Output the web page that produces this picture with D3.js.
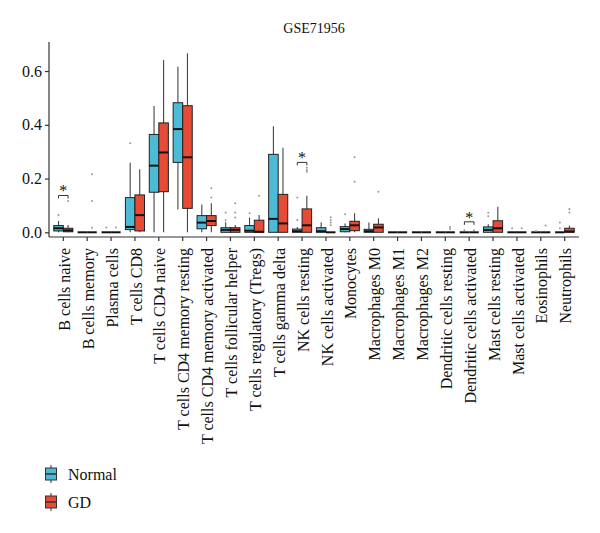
<!DOCTYPE html>
<html>
<head>
<meta charset="utf-8">
<script src="https://cdn.jsdelivr.net/npm/d3@7"></script>
<style>
  body { margin: 0; background: #fff; }
  text { font-family: "Liberation Serif", "DejaVu Serif", serif; fill: #111; }
</style>
</head>
<body>
<svg id="chart" width="600" height="533"></svg>
<script>
// immune cell fractions (CIBERSORT)
const categories = [
  'B cells naive', 'B cells memory', 'Plasma cells', 'T cells CD8', 'T cells CD4 naive',
  'T cells CD4 memory resting', 'T cells CD4 memory activated', 'T cells follicular helper',
  'T cells regulatory (Tregs)', 'T cells gamma delta', 'NK cells resting', 'NK cells activated',
  'Monocytes', 'Macrophages M0', 'Macrophages M1', 'Macrophages M2', 'Dendritic cells resting',
  'Dendritic cells activated', 'Mast cells resting', 'Mast cells activated', 'Eosinophils', 'Neutrophils'
];
const groups = ['Normal', 'GD'];

// [lower whisker, q1, median, q3, upper whisker]
const normalStats = [
  [0, 0.005, 0.015, 0.025, 0.042], [0, 0, 0, 0, 0], [0, 0, 0, 0, 0],
  [0, 0.010, 0.020, 0.129, 0.259], [0, 0.149, 0.248, 0.364, 0.470],
  [0.085, 0.260, 0.384, 0.482, 0.616], [0, 0.013, 0.036, 0.062, 0.103],
  [0, 0, 0.009, 0.017, 0.037], [0, 0, 0.006, 0.025, 0.055], [0, 0, 0.050, 0.290, 0.395],
  [0, 0, 0.004, 0.012, 0.020], [0, 0, 0.004, 0.017, 0.037], [0, 0.002, 0.012, 0.021, 0.033],
  [0, 0, 0.004, 0.011, 0.036], [0, 0, 0, 0, 0], [0, 0, 0, 0, 0], [0, 0, 0, 0, 0],
  [0, 0, 0, 0, 0], [0, 0, 0.009, 0.020, 0.030], [0, 0, 0, 0, 0], [0, 0, 0, 0, 0],
  [0, 0, 0, 0, 0]
];
const gdStats = [
  [0, 0.002, 0.007, 0.015, 0.027], [0, 0, 0, 0, 0], [0, 0, 0, 0, 0],
  [0, 0.005, 0.064, 0.139, 0.235], [0, 0.151, 0.297, 0.407, 0.641],
  [0, 0.089, 0.279, 0.471, 0.666], [0, 0.025, 0.042, 0.062, 0.108],
  [0, 0, 0.009, 0.017, 0.027], [0, 0, 0.002, 0.045, 0.064], [0, 0, 0.033, 0.141, 0.315],
  [0, 0, 0.026, 0.087, 0.136], [0, 0, 0, 0, 0], [0, 0.006, 0.026, 0.041, 0.071],
  [0, 0, 0.018, 0.030, 0.052], [0, 0, 0, 0, 0], [0, 0, 0, 0, 0], [0, 0, 0, 0, 0],
  [0, 0, 0, 0, 0], [0, 0, 0.015, 0.043, 0.095], [0, 0, 0, 0, 0], [0, 0, 0, 0, 0],
  [0, 0, 0.003, 0.015, 0.025]
];
const normalOutliers = [
  [0.064], [], [0.018], [0.331], [], [], [], [0.045, 0.074], [0.071], [],
  [0.046, 0.129], [], [0.067], [], [], [], [], [0.008], [0.060, 0.073], [0.015], [0.005],
  [0.015, 0.036]
];
const gdOutliers = [
  [0.116], [0.017, 0.116, 0.216], [0.018], [], [], [], [0.129, 0.164], [0.055, 0.074, 0.108],
  [0.136], [], [0.225, 0.232, 0.240], [0.026, 0.036, 0.046, 0.056], [0.188, 0.279], [0.151],
  [], [], [0.012, 0.020], [0.008], [], [0.015], [0.025], [0.074, 0.087]
];
// significance brackets: category and height
const sigCategories = ['B cells naive', 'NK cells resting', 'Dendritic cells activated'];
const sigHeights = [0.137, 0.260, 0.039];
const yTicks = [0, 0.2, 0.4, 0.6];

const colors = { Normal: '#4DBBD5', GD: '#E64B35' };
const panel = { left: 49, right: 579, top: 42, bottom: 237 };
const serif = '"Liberation Serif", "DejaVu Serif", serif';

const svg = d3.select('#chart');

const x = d3.scaleBand()
  .domain(categories)
  .range([panel.left, panel.right])
  .paddingInner(0)
  .paddingOuter(0.1);

const xg = d3.scaleBand()
  .domain(groups)
  .range([0, x.bandwidth()])
  .paddingInner(0)
  .paddingOuter(0.25);

const y = d3.scaleLinear()
  .domain([-0.0175, 0.708])
  .range([panel.bottom, panel.top]);

// title
svg.append('text')
  .attr('x', (panel.left + panel.right) / 2)
  .attr('y', 33)
  .attr('text-anchor', 'middle')
  .style('font-family', serif)
  .style('font-size', '14px')
  .attr('fill', '#111')
  .text('GSE71956');

// boxes
const boxes = [];
categories.forEach((c, i) => {
  boxes.push({ cat: c, group: 'Normal', s: normalStats[i], out: normalOutliers[i] });
  boxes.push({ cat: c, group: 'GD', s: gdStats[i], out: gdOutliers[i] });
});

const bw = xg.bandwidth();
const g = svg.append('g');

boxes.forEach(d => {
  const x0 = x(d.cat) + xg(d.group);
  const cx = x0 + bw / 2;
  const [lo, q1, med, q3, hi] = d.s;
  const bg = g.append('g');

  bg.append('line')
    .attr('x1', cx).attr('x2', cx)
    .attr('y1', y(hi)).attr('y2', y(q3))
    .attr('stroke', '#444').attr('stroke-width', 1.1);
  bg.append('line')
    .attr('x1', cx).attr('x2', cx)
    .attr('y1', y(q1)).attr('y2', y(lo))
    .attr('stroke', '#444').attr('stroke-width', 1.1);

  bg.append('rect')
    .attr('x', x0)
    .attr('y', y(q3))
    .attr('width', bw)
    .attr('height', Math.max(0, y(q1) - y(q3)))
    .attr('fill', colors[d.group])
    .attr('stroke', '#222')
    .attr('stroke-width', 1);

  bg.append('line')
    .attr('x1', x0).attr('x2', x0 + bw)
    .attr('y1', y(med)).attr('y2', y(med))
    .attr('stroke', '#111').attr('stroke-width', 2);

  bg.selectAll('circle')
    .data(d.out)
    .join('circle')
    .attr('cx', cx)
    .attr('cy', v => y(v))
    .attr('r', 1)
    .attr('fill', '#999');
});

// significance brackets
sigCategories.forEach((c, i) => {
  const xa = x(c) + xg('Normal') + bw / 2;
  const xb = x(c) + xg('GD') + bw / 2;
  const yb = y(sigHeights[i]);
  svg.append('path')
    .attr('d', `M${xa},${yb + 3}V${yb}H${xb}V${yb + 3}`)
    .attr('fill', 'none')
    .attr('stroke', '#333')
    .attr('stroke-width', 1);
  svg.append('text')
    .attr('x', (xa + xb) / 2)
    .attr('y', yb + 1)
    .attr('text-anchor', 'middle')
    .style('font-family', serif)
    .style('font-size', '16px')
    .attr('fill', '#222')
    .text('*');
});

// axes
const yAxis = svg.append('g')
  .attr('transform', `translate(${panel.left},0)`)
  .call(d3.axisLeft(y).tickValues(yTicks).tickFormat(d3.format('.1f')).tickSize(4).tickPadding(3));
yAxis.select('.domain').attr('d', `M0,${panel.top}V${panel.bottom}`);

const xAxis = svg.append('g')
  .attr('transform', `translate(0,${panel.bottom})`)
  .call(d3.axisBottom(x).tickSize(4).tickSizeOuter(0));
xAxis.select('.domain').attr('d', `M${panel.left},0H${panel.right}`);

svg.selectAll('.domain, .tick line').attr('stroke', '#333').attr('stroke-width', 1.2);
svg.selectAll('.tick text')
  .style('font-family', serif)
  .style('font-size', '16px')
  .attr('fill', '#111');

xAxis.selectAll('.tick text')
  .attr('transform', 'rotate(-90)')
  .attr('text-anchor', 'end')
  .attr('x', -11)
  .attr('y', 1)
  .attr('dy', '0.35em');

// legend
const legend = svg.append('g').attr('transform', 'translate(45,0)');
const legendY = [474, 502];
groups.forEach((grp, i) => {
  const cy = legendY[i];
  const lg = legend.append('g');
  lg.append('line')
    .attr('x1', 6).attr('x2', 6)
    .attr('y1', cy - 9).attr('y2', cy + 9)
    .attr('stroke', '#333');
  lg.append('rect')
    .attr('x', 0.5).attr('y', cy - 6)
    .attr('width', 11).attr('height', 12)
    .attr('fill', colors[grp])
    .attr('stroke', '#333');
  lg.append('line')
    .attr('x1', 0.5).attr('x2', 11.5)
    .attr('y1', cy).attr('y2', cy)
    .attr('stroke', '#333').attr('stroke-width', 1.5);
  lg.append('text')
    .attr('x', 23)
    .attr('y', cy)
    .attr('dy', '0.35em')
    .style('font-family', serif)
    .style('font-size', '16px')
    .attr('fill', '#111')
    .text(grp);
});
</script>
</body>
</html>
